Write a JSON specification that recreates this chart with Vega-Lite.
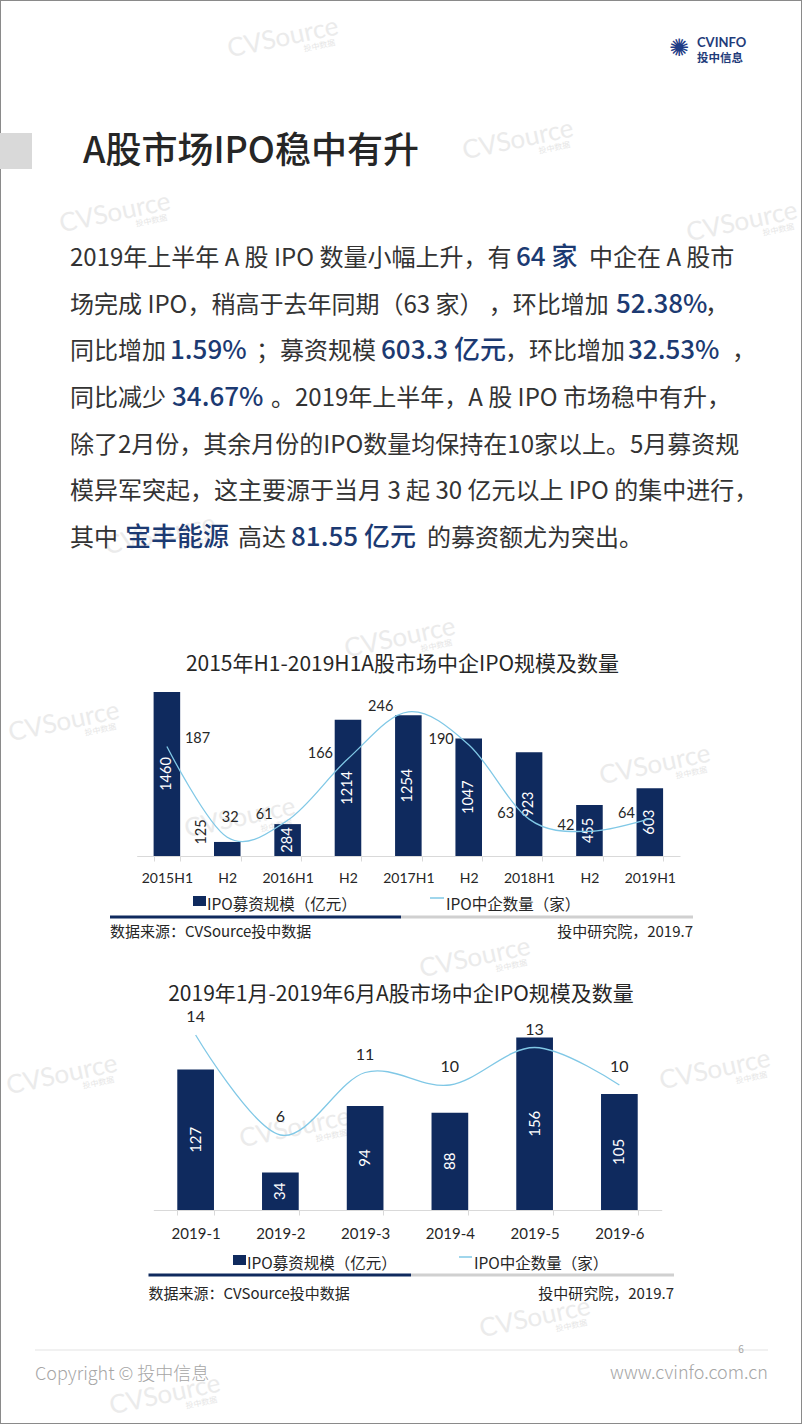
{
  "$schema": "https://vega.github.io/schema/vega-lite/v6.json",
  "width": 802,
  "height": 1424,
  "padding": 0,
  "autosize": {"type": "none"},
  "background": "#ffffff",
  "config": {
    "view": {"stroke": "#8a8a8a", "strokeWidth": 2},
    "text": {"font": "Noto Sans CJK SC"},
    "axis": {"grid": false}
  },
  "datasets": {
    "half": [
      {"p": "2015H1", "amt": 1460, "cnt": 187},
      {"p": "2015H2", "amt": 125, "cnt": 32},
      {"p": "2016H1", "amt": 284, "cnt": 61},
      {"p": "2016H2", "amt": 1214, "cnt": 166},
      {"p": "2017H1", "amt": 1254, "cnt": 246},
      {"p": "2017H2", "amt": 1047, "cnt": 190},
      {"p": "2018H1", "amt": 923, "cnt": 63},
      {"p": "2018H2", "amt": 455, "cnt": 42},
      {"p": "2019H1", "amt": 603, "cnt": 64}
    ],
    "month": [
      {"m": "2019-1", "amt": 127, "cnt": 14},
      {"m": "2019-2", "amt": 34, "cnt": 6},
      {"m": "2019-3", "amt": 94, "cnt": 11},
      {"m": "2019-4", "amt": 88, "cnt": 10},
      {"m": "2019-5", "amt": 156, "cnt": 13},
      {"m": "2019-6", "amt": 105, "cnt": 10}
    ],
    "body": [
      {"k": 1, "line": 1, "t": "2019年上半年 A 股 IPO 数量小幅上升，有"},
      {"k": 3, "line": 1, "t": "中企在 A 股市"},
      {"k": 4, "line": 2, "t": "场完成 IPO，稍高于去年同期（63 家） ，环比增加"},
      {"k": 6, "line": 2, "t": "，"},
      {"k": 7, "line": 3, "t": "同比增加"},
      {"k": 9, "line": 3, "t": "；募资规模"},
      {"k": 11, "line": 3, "t": "，环比增加"},
      {"k": 13, "line": 3, "t": "，"},
      {"k": 14, "line": 4, "t": "同比减少"},
      {"k": 16, "line": 4, "t": "。2019年上半年，A 股 IPO 市场稳中有升，"},
      {"k": 17, "line": 5, "t": "除了2月份，其余月份的IPO数量均保持在10家以上。5月募资规"},
      {"k": 18, "line": 6, "t": "模异军突起，这主要源于当月 3 起 30 亿元以上 IPO 的集中进行，"},
      {"k": 19, "line": 7, "t": "其中"},
      {"k": 21, "line": 7, "t": "高达"},
      {"k": 23, "line": 7, "t": "的募资额尤为突出。"}
    ],
    "emph": [
      {"k": 2, "line": 1, "t": "64 家"},
      {"k": 5, "line": 2, "t": "52.38%"},
      {"k": 8, "line": 3, "t": "1.59%"},
      {"k": 10, "line": 3, "t": "603.3 亿元"},
      {"k": 12, "line": 3, "t": "32.53%"},
      {"k": 15, "line": 4, "t": "34.67%"},
      {"k": 20, "line": 7, "t": "宝丰能源"},
      {"k": 22, "line": 7, "t": "81.55 亿元"}
    ],
    "wm": [
      {"k": 1, "t": "CVSource", "s": "投中数据"},
      {"k": 2, "t": "CVSource", "s": "投中数据"},
      {"k": 3, "t": "CVSource", "s": "投中数据"},
      {"k": 4, "t": "CVSource", "s": "投中数据"},
      {"k": 5, "t": "CVSource", "s": "投中数据"},
      {"k": 6, "t": "CVSource", "s": "投中数据"},
      {"k": 7, "t": "CVSource", "s": "投中数据"},
      {"k": 8, "t": "CVSource", "s": "投中数据"},
      {"k": 9, "t": "CVSource", "s": "投中数据"},
      {"k": 10, "t": "CVSource", "s": "投中数据"},
      {"k": 11, "t": "CVSource", "s": "投中数据"},
      {"k": 12, "t": "CVSource", "s": "投中数据"},
      {"k": 13, "t": "CVSource", "s": "投中数据"},
      {"k": 14, "t": "CVSource", "s": "投中数据"},
      {"k": 15, "t": "CVSource", "s": "投中数据"}
    ]
  },
  "resolve": {"scale": {"x": "independent", "y": "independent"}},
  "layer": [
    {
      "data": {"name": "wm"},
      "encoding": {
        "x": {"field": "k", "type": "quantitative", "axis": null,
          "scale": {"domain": [1,2,3,4,5,6,7,8,9,10,11,12,13,14,15], "range": [283,518,115,742,160,400,64,655,240,475,62,715,295,535,165], "zero": false, "nice": false}},
        "y": {"field": "k", "type": "quantitative", "axis": null,
          "scale": {"domain": [1,2,3,4,5,6,7,8,9,10,11,12,13,14,15], "range": [38,140,213,222,535,638,722,765,818,958,1075,1070,1128,1318,1395], "zero": false, "nice": false}}
      },
      "layer": [
        {"mark": {"type": "text", "font": "Lato", "fontSize": 26, "angle": 348, "color": "#ebebeb", "align": "center", "baseline": "middle"},
         "encoding": {"text": {"field": "t"}}},
        {"mark": {"type": "text", "fontSize": 8, "angle": 348, "color": "#e6e6e6", "align": "center", "baseline": "middle", "dx": 34, "dy": 16},
         "encoding": {"text": {"field": "s"}}}
      ]
    },
    {
      "data": {"values": [{"n": "logo"}]},
      "mark": {"type": "text", "font": "DejaVu Sans", "fontSize": 24, "color": "#1f3c86", "align": "center", "baseline": "middle"},
      "encoding": {"x": {"value": 679}, "y": {"value": 49}, "text": {"value": "✺"}}
    },
    {
      "data": {"values": [{"t": "CVINFO"}]},
      "mark": {"type": "text", "font": "Lato", "fontSize": 13, "fontWeight": "bold", "color": "#1f3c7a", "align": "left", "baseline": "middle"},
      "encoding": {"x": {"value": 697}, "y": {"value": 43}, "text": {"field": "t"}}
    },
    {
      "data": {"values": [{"t": "投中信息"}]},
      "mark": {"type": "text", "fontSize": 11.5, "fontWeight": "bold", "color": "#1f3c7a", "align": "left", "baseline": "middle"},
      "encoding": {"x": {"value": 697}, "y": {"value": 59}, "text": {"field": "t"}}
    },
    {
      "data": {"values": [{"n": "accent"}]},
      "mark": {"type": "rect", "color": "#d9d9d9"},
      "encoding": {"x": {"value": 0}, "x2": {"value": 32}, "y": {"value": 133}, "y2": {"value": 169}}
    },
    {
      "data": {"values": [{"t": "A股市场IPO稳中有升"}]},
      "mark": {"type": "text", "fontSize": 36, "fontWeight": 500, "color": "#262626", "align": "left", "baseline": "middle"},
      "encoding": {"x": {"value": 83}, "y": {"value": 152}, "text": {"field": "t"}}
    },
    {
      "encoding": {
        "x": {"field": "k", "type": "quantitative", "axis": null,
          "scale": {"domain": [1,2,3,4,5,6,7,8,9,10,11,12,13,14,15,16,17,18,19,20,21,22,23],
                    "range": [70,516,589,70,616,705,70,170,256,381,505,628,732,70,172,271,70,70,70,125,238,291,427], "zero": false, "nice": false}},
        "y": {"field": "line", "type": "quantitative", "axis": null,
          "scale": {"domain": [1, 7], "range": [266, 546], "zero": false, "nice": false}},
        "text": {"field": "t"}
      },
      "layer": [
        {"data": {"name": "body"},
         "mark": {"type": "text", "fontSize": 24, "color": "#333333", "align": "left", "baseline": "alphabetic"}},
        {"data": {"name": "emph"},
         "mark": {"type": "text", "fontSize": 26, "fontWeight": 500, "color": "#1c3a72", "align": "left", "baseline": "alphabetic"}}
      ]
    },
    {
      "data": {"values": [{"t": "2015年H1-2019H1A股市场中企IPO规模及数量"}]},
      "mark": {"type": "text", "fontSize": 21, "color": "#262626", "align": "center", "baseline": "middle"},
      "encoding": {"x": {"value": 402.5}, "y": {"value": 665}, "text": {"field": "t"}}
    },
    {
      "data": {"name": "half"},
      "encoding": {
        "x": {"field": "p", "type": "nominal", "sort": null, "title": null,
          "scale": {"range": [136.7, 680], "paddingInner": 0.56, "paddingOuter": 0.28},
          "axis": {"orient": "bottom", "offset": -568, "domainColor": "#d9d9d9", "tickColor": "#d9d9d9", "tickSize": 5, "tickBand": "extent",
                   "labelFont": "Lato", "labelFontSize": 14, "labelColor": "#262626", "labelPadding": 10, "labelAngle": 0,
                   "labelExpr": "slice(datum.label, 4) == 'H2' ? 'H2' : datum.label", "title": null}}
      },
      "resolve": {"scale": {"y": "independent"}},
      "layer": [
        {"mark": {"type": "bar", "color": "#0f2a5e"},
         "encoding": {"y": {"field": "amt", "type": "quantitative", "axis": null, "scale": {"domain": [0, 1460], "range": [856, 692], "nice": false, "zero": true}}}},
        {"transform": [{"filter": "datum.amt >= 200"}],
         "mark": {"type": "text", "angle": 270, "color": "#ffffff", "font": "Lato", "fontSize": 14.5, "align": "center", "baseline": "middle"},
         "encoding": {"y": {"field": "amt", "type": "quantitative", "axis": null, "scale": {"domain": [0, 2920], "range": [856, 692], "nice": false, "zero": true}},
                      "text": {"field": "amt", "type": "quantitative", "format": "d"}}},
        {"transform": [{"filter": "datum.amt < 200"}],
         "mark": {"type": "text", "angle": 270, "color": "#262626", "font": "Lato", "fontSize": 14.5, "align": "center", "baseline": "middle", "dx": 10, "dy": -25},
         "encoding": {"y": {"field": "amt", "type": "quantitative", "axis": null, "scale": {"domain": [0, 1460], "range": [856, 692], "nice": false, "zero": true}},
                      "text": {"field": "amt", "type": "quantitative", "format": "d"}}},
        {"mark": {"type": "line", "color": "#80c8e6", "strokeWidth": 1.3, "interpolate": "cardinal"},
         "encoding": {"y": {"field": "cnt", "type": "quantitative", "axis": null, "scale": {"domain": [0, 280], "range": [856, 692], "nice": false, "zero": true}}}},
        {"transform": [{"filter": "datum.p == '2015H1'"}],
         "mark": {"type": "text", "color": "#262626", "font": "Lato", "fontSize": 14.5, "align": "left", "baseline": "middle", "dx": 18, "dy": -7},
         "encoding": {"y": {"field": "cnt", "type": "quantitative", "axis": null, "scale": {"domain": [0, 280], "range": [856, 692], "nice": false, "zero": true}},
                      "text": {"field": "cnt", "type": "quantitative", "format": "d"}}},
        {"transform": [{"filter": "datum.p == '2015H2'"}],
         "mark": {"type": "text", "color": "#262626", "font": "Lato", "fontSize": 14.5, "align": "center", "baseline": "middle", "dx": 3, "dy": -19},
         "encoding": {"y": {"field": "cnt", "type": "quantitative", "axis": null, "scale": {"domain": [0, 280], "range": [856, 692], "nice": false, "zero": true}},
                      "text": {"field": "cnt", "type": "quantitative", "format": "d"}}},
        {"transform": [{"filter": "datum.p != '2015H1' && datum.p != '2015H2'"}],
         "mark": {"type": "text", "color": "#262626", "font": "Lato", "fontSize": 14.5, "align": "right", "baseline": "middle", "dx": -15, "dy": -5},
         "encoding": {"y": {"field": "cnt", "type": "quantitative", "axis": null, "scale": {"domain": [0, 280], "range": [856, 692], "nice": false, "zero": true}},
                      "text": {"field": "cnt", "type": "quantitative", "format": "d"}}}
      ]
    },
    {
      "data": {"values": [{"n": "sw"}]},
      "mark": {"type": "rect", "color": "#0f2a5e"},
      "encoding": {"x": {"value": 193}, "x2": {"value": 206}, "y": {"value": 896}, "y2": {"value": 906}}
    },
    {
      "data": {"values": [{"t": "IPO募资规模（亿元）"}]},
      "mark": {"type": "text", "fontSize": 15.5, "color": "#262626", "align": "left", "baseline": "middle"},
      "encoding": {"x": {"value": 207}, "y": {"value": 905}, "text": {"field": "t"}}
    },
    {
      "data": {"values": [{"n": "ls"}]},
      "mark": {"type": "rule", "color": "#80c8e6", "strokeWidth": 1.5},
      "encoding": {"x": {"value": 430}, "x2": {"value": 444}, "y": {"value": 898}}
    },
    {
      "data": {"values": [{"t": "IPO中企数量（家）"}]},
      "mark": {"type": "text", "fontSize": 15.5, "color": "#262626", "align": "left", "baseline": "middle"},
      "encoding": {"x": {"value": 446}, "y": {"value": 905}, "text": {"field": "t"}}
    },
    {
      "data": {"values": [{"n": "d1"}]},
      "mark": {"type": "rule", "color": "#0f2a5e", "strokeWidth": 3},
      "encoding": {"x": {"value": 110}, "x2": {"value": 401}, "y": {"value": 917}}
    },
    {
      "data": {"values": [{"n": "d2"}]},
      "mark": {"type": "rule", "color": "#d0d0d0", "strokeWidth": 3},
      "encoding": {"x": {"value": 401}, "x2": {"value": 693}, "y": {"value": 917}}
    },
    {
      "data": {"values": [{"t": "数据来源：CVSource投中数据"}]},
      "mark": {"type": "text", "fontSize": 15, "color": "#262626", "align": "left", "baseline": "middle"},
      "encoding": {"x": {"value": 110}, "y": {"value": 932}, "text": {"field": "t"}}
    },
    {
      "data": {"values": [{"t": "投中研究院，2019.7"}]},
      "mark": {"type": "text", "fontSize": 15, "color": "#262626", "align": "right", "baseline": "middle"},
      "encoding": {"x": {"value": 693}, "y": {"value": 932}, "text": {"field": "t"}}
    },
    {
      "data": {"values": [{"t": "2019年1月-2019年6月A股市场中企IPO规模及数量"}]},
      "mark": {"type": "text", "fontSize": 21, "color": "#262626", "align": "center", "baseline": "middle"},
      "encoding": {"x": {"value": 401}, "y": {"value": 995}, "text": {"field": "t"}}
    },
    {
      "data": {"name": "month"},
      "encoding": {
        "x": {"field": "m", "type": "nominal", "sort": null, "title": null,
          "scale": {"range": [153.3, 661.7], "paddingInner": 0.567, "paddingOuter": 0.283},
          "axis": {"orient": "bottom", "offset": -214, "domainColor": "#d9d9d9", "tickColor": "#d9d9d9", "tickSize": 5, "tickBand": "extent",
                   "labelFont": "Lato", "labelFontSize": 15, "labelColor": "#262626", "labelPadding": 11, "labelAngle": 0, "title": null}}
      },
      "resolve": {"scale": {"y": "independent"}},
      "layer": [
        {"mark": {"type": "bar", "color": "#0f2a5e"},
         "encoding": {"y": {"field": "amt", "type": "quantitative", "axis": null, "scale": {"domain": [0, 156], "range": [1210, 1037.5], "nice": false, "zero": true}}}},
        {"mark": {"type": "text", "angle": 270, "color": "#ffffff", "font": "Lato", "fontSize": 15, "align": "center", "baseline": "middle"},
         "encoding": {"y": {"field": "amt", "type": "quantitative", "axis": null, "scale": {"domain": [0, 312], "range": [1210, 1037.5], "nice": false, "zero": true}},
                      "text": {"field": "amt", "type": "quantitative", "format": "d"}}},
        {"mark": {"type": "line", "color": "#80c8e6", "strokeWidth": 1.3, "interpolate": "cardinal"},
         "encoding": {"y": {"field": "cnt", "type": "quantitative", "axis": null, "scale": {"domain": [0, 16], "range": [1210, 1010], "nice": false, "zero": true}}}},
        {"mark": {"type": "text", "color": "#262626", "font": "Lato", "fontSize": 16, "align": "center", "baseline": "middle", "dy": -18},
         "encoding": {"y": {"field": "cnt", "type": "quantitative", "axis": null, "scale": {"domain": [0, 16], "range": [1210, 1010], "nice": false, "zero": true}},
                      "text": {"field": "cnt", "type": "quantitative", "format": "d"}}}
      ]
    },
    {
      "data": {"values": [{"n": "sw"}]},
      "mark": {"type": "rect", "color": "#0f2a5e"},
      "encoding": {"x": {"value": 233}, "x2": {"value": 246}, "y": {"value": 1255}, "y2": {"value": 1265}}
    },
    {
      "data": {"values": [{"t": "IPO募资规模（亿元）"}]},
      "mark": {"type": "text", "fontSize": 15.5, "color": "#262626", "align": "left", "baseline": "middle"},
      "encoding": {"x": {"value": 247}, "y": {"value": 1264}, "text": {"field": "t"}}
    },
    {
      "data": {"values": [{"n": "ls"}]},
      "mark": {"type": "rule", "color": "#80c8e6", "strokeWidth": 1.5},
      "encoding": {"x": {"value": 459}, "x2": {"value": 472}, "y": {"value": 1257}}
    },
    {
      "data": {"values": [{"t": "IPO中企数量（家）"}]},
      "mark": {"type": "text", "fontSize": 15.5, "color": "#262626", "align": "left", "baseline": "middle"},
      "encoding": {"x": {"value": 474}, "y": {"value": 1264}, "text": {"field": "t"}}
    },
    {
      "data": {"values": [{"n": "d1"}]},
      "mark": {"type": "rule", "color": "#0f2a5e", "strokeWidth": 3},
      "encoding": {"x": {"value": 148.5}, "x2": {"value": 411}, "y": {"value": 1275}}
    },
    {
      "data": {"values": [{"n": "d2"}]},
      "mark": {"type": "rule", "color": "#d0d0d0", "strokeWidth": 3},
      "encoding": {"x": {"value": 411}, "x2": {"value": 674}, "y": {"value": 1275}}
    },
    {
      "data": {"values": [{"t": "数据来源：CVSource投中数据"}]},
      "mark": {"type": "text", "fontSize": 15, "color": "#262626", "align": "left", "baseline": "middle"},
      "encoding": {"x": {"value": 148.5}, "y": {"value": 1294}, "text": {"field": "t"}}
    },
    {
      "data": {"values": [{"t": "投中研究院，2019.7"}]},
      "mark": {"type": "text", "fontSize": 15, "color": "#262626", "align": "right", "baseline": "middle"},
      "encoding": {"x": {"value": 674}, "y": {"value": 1294}, "text": {"field": "t"}}
    },
    {
      "data": {"values": [{"n": "foot"}]},
      "mark": {"type": "rule", "color": "#e3e3e3", "strokeWidth": 1},
      "encoding": {"x": {"value": 35}, "x2": {"value": 768}, "y": {"value": 1350}}
    },
    {
      "data": {"values": [{"t": "Copyright © 投中信息"}]},
      "mark": {"type": "text", "fontSize": 18, "fontWeight": 300, "color": "#a6a6a6", "align": "left", "baseline": "middle"},
      "encoding": {"x": {"value": 35}, "y": {"value": 1375}, "text": {"field": "t"}}
    },
    {
      "data": {"values": [{"t": "6"}]},
      "mark": {"type": "text", "fontSize": 10, "color": "#a6a6a6", "align": "center", "baseline": "middle"},
      "encoding": {"x": {"value": 741}, "y": {"value": 1350}, "text": {"field": "t"}}
    },
    {
      "data": {"values": [{"t": "www.cvinfo.com.cn"}]},
      "mark": {"type": "text", "fontSize": 18, "fontWeight": 300, "color": "#a6a6a6", "align": "right", "baseline": "middle"},
      "encoding": {"x": {"value": 768}, "y": {"value": 1374}, "text": {"field": "t"}}
    }
  ]
}
